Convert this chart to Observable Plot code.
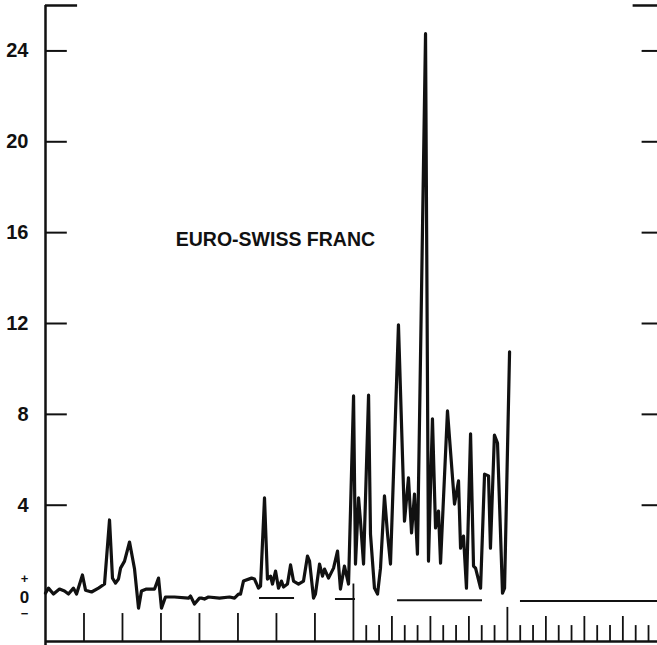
<!DOCTYPE html>
<html>
<head>
<meta charset="utf-8">
<script src="https://cdn.jsdelivr.net/npm/d3@7"></script>
<script src="https://cdn.jsdelivr.net/npm/@observablehq/plot@0.6"></script>
<style>
  html, body { margin: 0; padding: 0; background: #fff; }
  #chart { width: 657px; height: 645px; }
</style>
</head>
<body>
<div id="chart"></div>
<script>
const xs = [0, 0.23, 0.62, 1.09, 1.48, 1.79, 2.18, 2.42, 2.88, 3.12, 3.59, 4.13, 4.60, 4.99, 5.22, 5.46, 5.69, 5.85, 6.16, 6.55, 6.94, 7.25, 7.48, 7.87, 8.50, 8.81, 9.04, 9.35, 10.05, 11.15, 11.30, 11.61, 12.00, 12.16, 12.39, 12.70, 13.56, 14.34, 14.73, 15.04, 15.20, 15.43, 16.06, 16.29, 16.60, 16.76, 17.07, 17.30, 17.54, 17.69, 17.93, 18.16, 18.39, 18.55, 18.86, 19.10, 19.33, 19.72, 20.11, 20.42, 20.58, 20.89, 21.04, 21.36, 21.59, 21.75, 22.06, 22.45, 22.76, 22.99, 23.30, 23.62, 24.01, 24.16, 24.40, 24.55, 24.79, 25.18, 25.33, 25.64, 25.88, 26.11, 26.42, 26.66, 26.89, 27.51, 27.98, 28.29, 28.53, 28.76, 28.99, 29.62, 29.85, 30.16, 30.40, 30.63, 30.79, 31.33, 31.88, 32.19, 32.35, 32.58, 32.81, 33.13, 33.36, 33.52, 33.91, 34.22, 34.53, 34.68, 34.99, 35.23, 35.62, 35.78, 36.17];
const ys = [0.13, 0.35, 0.09, 0.31, 0.22, 0.09, 0.35, 0.09, 0.93, 0.26, 0.18, 0.35, 0.53, 3.35, 0.79, 0.57, 0.75, 1.23, 1.54, 2.38, 1.19, -0.53, 0.22, 0.31, 0.31, 0.79, -0.53, -0.04, -0.04, -0.09, 0, -0.35, -0.09, -0.09, -0.13, -0.04, -0.09, -0.04, -0.09, 0.09, 0.09, 0.66, 0.79, 0.75, 0.35, 0.44, 4.32, 0.75, 0.88, 0.53, 1.10, 0.35, 0.66, 0.40, 0.53, 1.37, 0.66, 0.53, 0.66, 1.76, 1.54, -0.09, 0.09, 1.41, 0.88, 1.19, 0.79, 1.23, 1.98, 0.31, 1.32, 0.53, 8.81, 1.41, 4.32, 3.30, 1.41, 8.85, 2.73, 0.35, 0.09, 1.23, 4.41, 2.73, 1.41, 11.94, 3.30, 5.20, 2.78, 4.49, 1.85, 24.76, 1.54, 7.80, 3.00, 3.74, 1.45, 8.15, 4.05, 5.07, 2.11, 2.64, 0.35, 7.14, 1.32, 1.23, 0.35, 5.37, 5.29, 2.11, 7.09, 6.74, 0.13, 0.35, 10.75];

// horizontal zero-level segments
const segStart = [16.68, 22.6, 27.44, 37.02];
const segEnd   = [19.41, 24.16, 34.06, 47.78];
const segLevel = [-0.09, -0.13, -0.18, -0.22];

// axis ticks
const yTicks = [4, 8, 12, 16, 20, 24];
const yZero = [0];
const yTopTick = [26];
const xMajor = [3, 6, 9, 12, 15, 18, 21];
const xMajorTall = [24];
const xMinor = [25, 26, 28, 29, 31, 32, 34, 35, 37, 38, 40, 41, 43, 44, 46, 47];
const xMedium = [27, 30, 33, 39, 42, 45];
const xTall = [36];

const title = "EURO-SWISS FRANC";

// ---- build ----
const series = xs.map((x, i) => ({x, y: ys[i]}));
const segs = segStart.map((s, i) => ({x1: s, x2: segEnd[i], y: segLevel[i]}));

const X0 = 0, X1 = 47.7, Y0 = -2, Y1 = 26;
const ink = "#111";

const chart = Plot.plot({
  width: 657,
  height: 645,
  marginLeft: 45,
  marginRight: 0,
  marginTop: 5,
  marginBottom: 4,
  x: {domain: [X0, X1], axis: null},
  y: {domain: [Y0, Y1], axis: null},
  style: {fontFamily: "Liberation Sans, Arial, sans-serif", fontWeight: "bold", fontSize: "20px", background: "#fff", color: ink},
  marks: [
    // frame lines
    Plot.ruleX([X0], {y1: Y0 - 0.2, y2: Y1, stroke: ink, strokeWidth: 2.5}),
    Plot.ruleY([Y0], {x1: X0, x2: X1, stroke: ink, strokeWidth: 2.5}),
    // left ticks (inward)
    Plot.ruleY(yTicks, {x1: X0, x2: 1.7, stroke: ink, strokeWidth: 2}),
    Plot.ruleY(yTopTick, {x1: X0, x2: 2.5, stroke: ink, strokeWidth: 2.5}),
    // right ticks
    Plot.ruleY(yTicks, {x1: 46.5, x2: X1, stroke: ink, strokeWidth: 2}),
    Plot.ruleY(yTopTick, {x1: 45.8, x2: X1, stroke: ink, strokeWidth: 2.5}),
    // bottom ticks
    Plot.ruleX(xMajor, {y1: Y0, y2: -0.77, stroke: ink, strokeWidth: 1.8}),
    Plot.ruleX(xMajorTall, {y1: Y0, y2: 0.53, stroke: ink, strokeWidth: 1.8}),
    Plot.ruleX(xMinor, {y1: Y0, y2: -1.3, stroke: ink, strokeWidth: 1.8}),
    Plot.ruleX(xMedium, {y1: Y0, y2: -0.9, stroke: ink, strokeWidth: 1.8}),
    Plot.ruleX(xTall, {y1: Y0, y2: -0.5, stroke: ink, strokeWidth: 1.8}),
    // y labels
    Plot.axisY(yTicks, {anchor: "left", label: null, tickSize: 0, tickPadding: 17, fontSize: 20, fontWeight: "bold"}),
    Plot.text(yZero, {x: X0, y: d => d, text: d => String(d), dx: -21, dy: 1, textAnchor: "middle", fontSize: 17, fontWeight: "bold"}),
    Plot.text(yZero, {x: X0, y: d => d, text: () => "+", dx: -21, dy: -17, textAnchor: "middle", fontSize: 13, fontWeight: "bold"}),
    Plot.text(yZero, {x: X0, y: d => d, text: () => "\u2212", dx: -21, dy: 18, textAnchor: "middle", fontSize: 13, fontWeight: "bold"}),
    // zero-level segments
    Plot.ruleY(segs, {x1: "x1", x2: "x2", y: "y", stroke: ink, strokeWidth: 2}),
    // the series
    Plot.line(series, {x: "x", y: "y", stroke: ink, strokeWidth: 3.2, strokeLinejoin: "round", strokeLinecap: "round"}),
    // title
    Plot.text([title], {x: 10.15, y: 15.7, text: d => d, textAnchor: "start", fontSize: 19.5, fontWeight: "bold"})
  ]
});
document.getElementById("chart").appendChild(chart);
</script>
</body>
</html>
